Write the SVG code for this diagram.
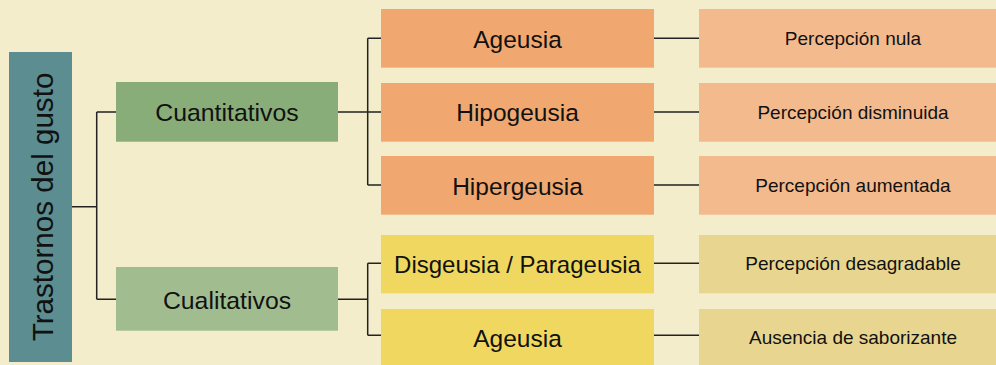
<svg xmlns="http://www.w3.org/2000/svg" width="996" height="365" viewBox="0 0 996 365">
<style>
text{font-family:"Liberation Sans",Arial,sans-serif;fill:#111;text-anchor:middle}
.c{fill:none;stroke:#222;stroke-width:1.5}
.mid{font-size:24.5px}
.rt{font-size:19px}
</style>
<rect width="996" height="365" fill="#F3EDCB"/>
<g id="connectors">
<path class="c" d="M72 206.7H96.7M96.7 112V299.3M96.7 112H116M96.7 299.3H116"/>
<path class="c" d="M338 112H367.7M367.7 38.3V185M367.7 38.3H381M367.7 112H381M367.7 185H381"/>
<path class="c" d="M338 299.3H367.7M367.7 263.3V335.3M367.7 263.3H381M367.7 335.3H381"/>
<path class="c" d="M654 38.3H699M654 112H699M654 185H699M654 263.3H699M654 335.3H699"/>
</g>
<g id="root"><rect x="9" y="52" width="63" height="310" fill="#5C8D90"/><text transform="translate(53,207) rotate(-90)" font-size="29.6">Trastornos del gusto</text></g>
<g id="cuantitativos"><rect x="116" y="82" width="222" height="59.7" fill="#88AD78"/><text x="227" y="121" font-size="24.8">Cuantitativos</text></g>
<g id="cualitativos"><rect x="116" y="267" width="222" height="63.7" fill="#A1BD90"/><text x="227" y="308.5" font-size="24.8">Cualitativos</text></g>
<g id="ageusia1"><rect x="381" y="9" width="273" height="58.7" fill="#F0A870"/><text class="mid" x="517.5" y="47.5">Ageusia</text></g>
<g id="hipogeusia"><rect x="381" y="83" width="273" height="58.7" fill="#F0A870"/><text class="mid" x="517.5" y="121">Hipogeusia</text></g>
<g id="hipergeusia"><rect x="381" y="156" width="273" height="58.7" fill="#F0A870"/><text class="mid" x="517.5" y="194.5">Hipergeusia</text></g>
<g id="disgeusia"><rect x="381" y="235" width="273" height="58.3" fill="#F0D860"/><text x="517.5" y="273" font-size="24">Disgeusia / Parageusia</text></g>
<g id="ageusia2"><rect x="381" y="309" width="273" height="58" fill="#F0D860"/><text class="mid" x="517.5" y="347">Ageusia</text></g>
<g id="r1"><rect x="699" y="9" width="297" height="58.7" fill="#F3BA8D"/><text class="rt" x="853" y="45">Percepción nula</text></g>
<g id="r2"><rect x="699" y="83" width="297" height="58.7" fill="#F3BA8D"/><text class="rt" x="853" y="118.5">Percepción disminuida</text></g>
<g id="r3"><rect x="699" y="156" width="297" height="58.7" fill="#F3BA8D"/><text class="rt" x="853" y="191.5">Percepción aumentada</text></g>
<g id="r4"><rect x="699" y="235" width="297" height="58.3" fill="#E8D690"/><text class="rt" x="853" y="270">Percepción desagradable</text></g>
<g id="r5"><rect x="699" y="309" width="297" height="58" fill="#E8D690"/><text class="rt" x="853" y="343.5">Ausencia de saborizante</text></g>
</svg>
